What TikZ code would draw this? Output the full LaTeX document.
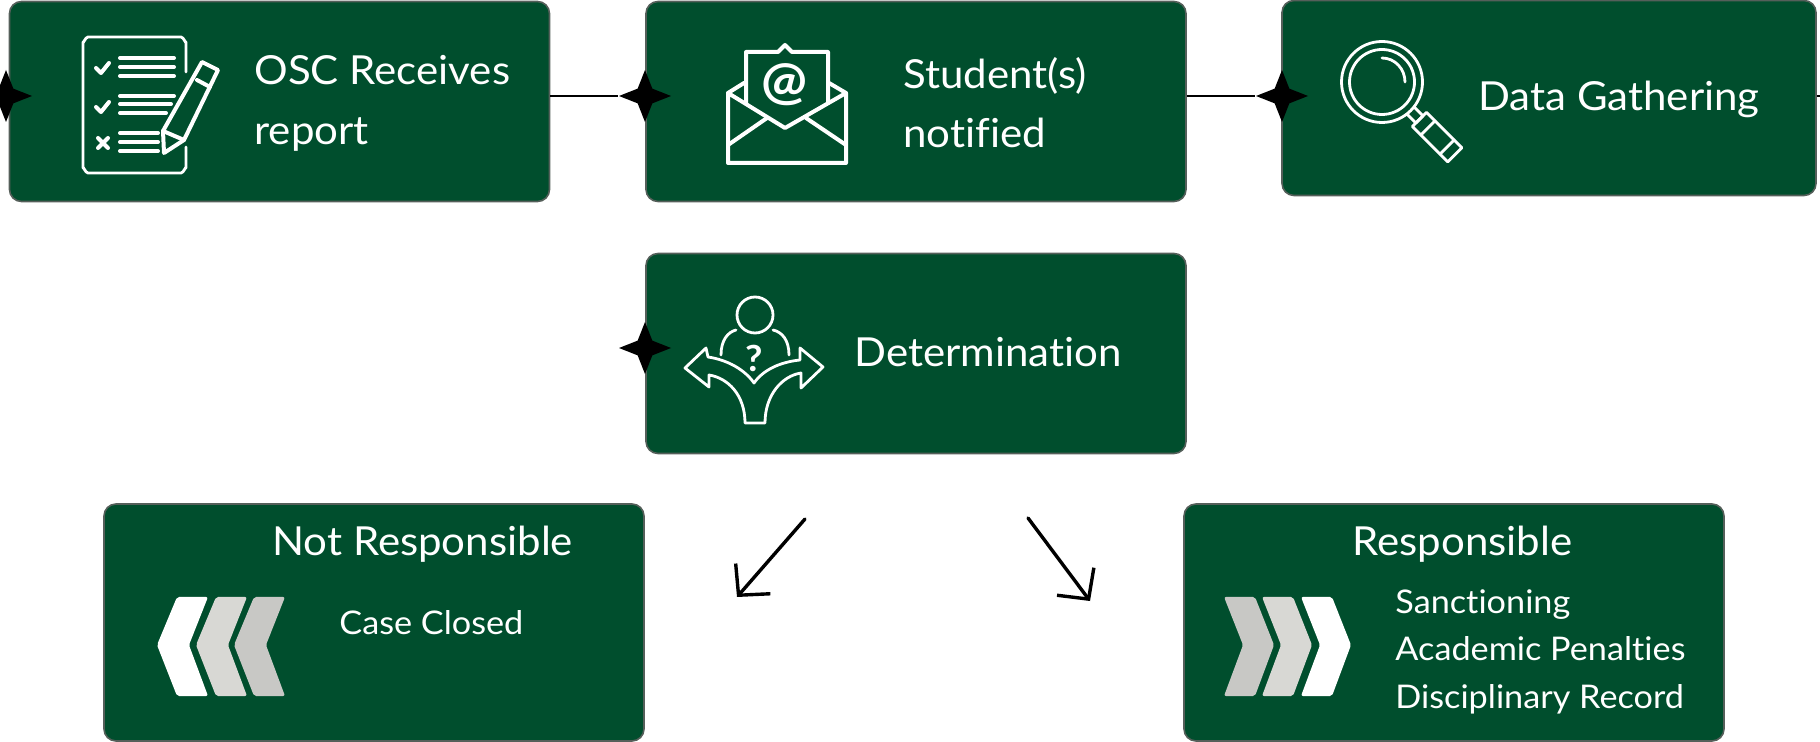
\documentclass[tikz,border=0pt]{standalone}
\usepackage{fontspec}
\setmainfont{Lato}[Ligatures=NoCommon,FakeStretch=1.05]
\usetikzlibrary{arrows.meta,shapes.geometric}
\definecolor{caseGreen}{HTML}{004E2D}
\definecolor{caseEdge}{HTML}{555F5A}
\definecolor{chevA}{HTML}{D8D8D4}
\definecolor{chevB}{HTML}{C8C8C5}
\tikzset{
  stepbox/.style={draw=caseEdge, line width=0.8pt, fill=caseGreen, rounded corners=6pt, inner sep=0pt,
    minimum width=270pt, minimum height=100pt},
  tallbox/.style={stepbox, minimum height=118.5pt},
  title/.style={text=white, anchor=base west, inner sep=0pt, font=\fontsize{20}{20}\selectfont},
  small/.style={text=white, anchor=base west, inner sep=0pt, font=\fontsize{16.3}{16.3}\selectfont},
  joint/.style={star, star points=4, star point ratio=2.5, fill=black, inner sep=0pt, minimum size=26pt},
  link/.style={draw=black, line width=1.2pt},
  barb/.style={draw=black, line width=1.7pt, line cap=round, -{Straight Barb[length=11pt,width=23pt]}},
  icon/.style={draw=white, line width=1.4pt, line join=round, line cap=round},
  iconfat/.style={icon, line width=2pt}
}
\newcommand{\chevleft}[2]{\fill[#2, rounded corners=1pt] (#1+20,597) -- (#1+51,597) -- (#1+32,645) -- (#1+51,696) -- (#1+20,696) -- (#1,645) -- cycle;}
\newcommand{\chevright}[2]{\fill[#2, rounded corners=1pt] (#1,597) -- (#1+31,597) -- (#1+50,645) -- (#1+31,696) -- (#1,696) -- (#1+19,645) -- cycle;}
\begin{document}
\begin{tikzpicture}[x=0.5pt,y=-0.5pt]
  \useasboundingbox (0,0) rectangle (1820,742);
  % boxes
  \node[stepbox] (report) at (279.5,101.5) {};
  \node[stepbox] (notified) at (916,101.5) {};
  \node[stepbox, minimum width=267pt, minimum height=97.5pt] (gather) at (1549,98) {};
  \node[stepbox] (determine) at (916,353.5) {};
  \node[tallbox] (closed) at (374,622.5) {};
  \node[tallbox] (sanction) at (1454,622.5) {};
  % joints
  \node[joint] (jreport) at (6,96) {};
  \node[joint] (jnotified) at (645,96) {};
  \node[joint] (jgather) at (1282,96) {};
  \node[joint] (jdetermine) at (645,348) {};
  \coordinate (stub) at (1820,96);
  \draw[link] (report.east |- jnotified) -- (jnotified);
  \draw[link] (notified.east |- jgather) -- (jgather);
  \draw[link] (gather.east |- stub) -- (stub);
  % arrows
  \coordinate (lefttail) at (805,519);
  \coordinate (lefttip) at (737,597);
  \coordinate (righttail) at (1028,518);
  \coordinate (righttip) at (1090,601);
  \draw[barb] (lefttail) -- (lefttip);
  \draw[barb] (righttail) -- (righttip);
  % labels
  \node[title] (t1) at (254,85) {OSC Receives};
  \node[title] (t2) at (254,145) {report};
  \node[title] (t3) at (903,89) {Student(s)};
  \node[title] (t4) at (903,148) {notified};
  \node[title] (t5) at (1478,111) {Data Gathering};
  \node[title] (t6) at (854,367) {Determination};
  \node[title] (t7) at (272,556) {Not Responsible};
  \node[title] (t8) at (1352,556) {Responsible};
  \node[small] (t9) at (339,634) {Case Closed};
  \node[small] (t10) at (1395,613) {Sanctioning};
  \node[small] (t11) at (1395,661) {Academic Penalties};
  \node[small] (t12) at (1395,708) {Disciplinary Record};
  % checklist
  \draw[icon] (186,72) -- (186,42) to[out=-90,in=0] (181,37) -- (88,37) to[out=180,in=-90] (83,42) -- (83,168) to[out=90,in=180] (88,173) -- (181,173) to[out=0,in=90] (186,168) -- (186,147);
  \draw[iconfat] (120,58) -- (174,58) (120,67) -- (174,67) (120,76) -- (174,76);
  \draw[iconfat] (120,96) -- (174,96) (120,104) -- (171,104) (120,113) -- (166,113);
  \draw[iconfat] (120,133) -- (158,133) (120,142) -- (158,142) (120,151) -- (158,151);
  \draw[iconfat] (96,68) -- (101,73) -- (109,63);
  \draw[iconfat] (96,107) -- (101,112) -- (109,102);
  \draw[iconfat] (98,138) -- (108,148) (108,138) -- (98,148);
  \draw[iconfat] (202,62) -- (218,70) -- (184,140) -- (164,153) -- (163,131) -- cycle;
  \draw[iconfat] (197,80) -- (210,87) (163,131) -- (184,140);
  % envelope
  \draw[iconfat] (746,103) -- (746,52) -- (778,52) -- (785,45) -- (792,52) -- (828,52) -- (828,103);
  \draw[iconfat] (728,93) -- (728,163) -- (846,163) -- (846,93) -- (785,128) -- cycle;
  \draw[iconfat] (728,93) -- (744,83) (846,93) -- (829,83);
  \draw[iconfat] (728,145) -- (767,118) (846,145) -- (806,118);
  \node[text=white, inner sep=0pt, font=\fontsize{26}{26}\selectfont\bfseries] (at) at (785,85) {@};
  % magnifier
  \draw[icon] (1382,82) circle (40.5);
  \draw[icon] (1382,82) circle (32.5);
  \draw[icon] (1382,58) .. controls (1395,58) and (1405,69) .. (1405,82);
  \begin{scope}[shift={(1382,82)},rotate=-45]
    \draw[icon] (41,-5) -- (53,-5) -- (53,5) -- (41,5);
    \draw[icon] (53,-10) -- (103,-10) -- (103,10) -- (53,10) -- cycle;
    \draw[icon] (65,-10) -- (65,10) (92,-10) -- (92,10);
  \end{scope}
  % person at the fork
  \draw[icon] (755,315) circle (18);
  \draw[icon] (721,355) .. controls (721,340) and (728,332) .. (736,330);
  \draw[icon] (789,355) .. controls (789,340) and (782,332) .. (773,330);
  \draw[icon] (709,375) .. controls (728,378) and (745,395) .. (745,423) -- (765,423) .. controls (765,395) and (782,376) .. (801,373) -- (801,388) -- (823,367) -- (800,348) -- (800,360) .. controls (780,362) and (763,370) .. (754,383) .. controls (745,370) and (728,360) .. (708,357) -- (706,348) -- (685,368) -- (709,387) -- cycle;
  \node[text=white, inner sep=0pt, font=\fontsize{18}{18}\selectfont\bfseries] (ask) at (754,358) {?};
  % chevrons
  \chevleft{157}{white}
  \chevleft{196}{chevA}
  \chevleft{234}{chevB}
  \chevright{1224}{chevB}
  \chevright{1262}{chevA}
  \chevright{1301}{white}
\end{tikzpicture}
\end{document}
